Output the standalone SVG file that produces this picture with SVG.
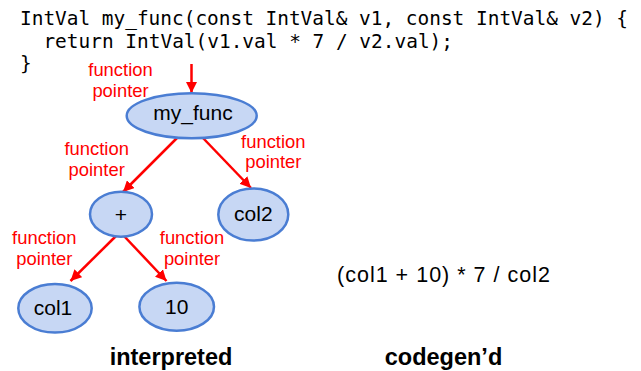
<svg xmlns="http://www.w3.org/2000/svg" width="641" height="371" viewBox="0 0 641 371">
<style>
.code{font-family:"DejaVu Sans Mono","Liberation Mono",monospace;font-size:19.4px;fill:#000}
.node ellipse{fill:#C7D7F4;stroke:#4A7DD3;stroke-width:2.5}
.node text{font-family:"Liberation Sans",Arial,sans-serif;font-size:21px;fill:#000;text-anchor:middle}
.lbl{font-family:"Liberation Sans",Arial,sans-serif;font-size:18.4px;fill:#FF0000;text-anchor:middle}
.cap{font-family:"Liberation Sans",Arial,sans-serif;font-size:23.5px;font-weight:bold;fill:#000;text-anchor:middle}
.edge{stroke:#FF0000;stroke-width:2.5;fill:none;marker-end:url(#ah)}
</style>
<defs>
<marker id="ah" viewBox="0 0 10 10" refX="10" refY="5" markerWidth="4.4" markerHeight="4.4" orient="auto" markerUnits="strokeWidth">
<path d="M0,0 L10,5 L0,10 z" fill="#FF0000"/>
</marker>
</defs>
<rect width="641" height="371" fill="#FFFFFF"/>
<g id="code">
<text class="code" x="20" y="25" textLength="608" lengthAdjust="spacingAndGlyphs">IntVal my_func(const IntVal&amp; v1, const IntVal&amp; v2) {</text>
<text class="code" x="20" y="47.5" xml:space="preserve" textLength="433" lengthAdjust="spacingAndGlyphs">  return IntVal(v1.val * 7 / v2.val);</text>
<text class="code" x="20" y="70">}</text>
</g>
<g id="connectors">
<line class="edge" x1="191.5" y1="64" x2="191.5" y2="93"/>
<line class="edge" x1="177" y1="138" x2="123" y2="192"/>
<line class="edge" x1="203" y1="138" x2="251" y2="188"/>
<line class="edge" x1="116" y1="236" x2="70.5" y2="281"/>
<line class="edge" x1="124" y1="236" x2="166.5" y2="281"/>
</g>
<g id="labels">
<text class="lbl" x="120.5" y="75.7">function</text>
<text class="lbl" x="120.5" y="96.7">pointer</text>
<text class="lbl" x="96.7" y="155">function</text>
<text class="lbl" x="96.7" y="175.7">pointer</text>
<text class="lbl" x="273.3" y="147.7">function</text>
<text class="lbl" x="273.3" y="168.3">pointer</text>
<text class="lbl" x="44.3" y="244">function</text>
<text class="lbl" x="44.3" y="265">pointer</text>
<text class="lbl" x="192" y="244">function</text>
<text class="lbl" x="192" y="265">pointer</text>
</g>
<g id="node-my_func" class="node">
<ellipse cx="191.7" cy="115.8" rx="65" ry="22.5"/>
<text x="193" y="120">my_func</text>
</g>
<g id="node-plus" class="node">
<ellipse cx="121" cy="214.2" rx="31" ry="22.5"/>
<text x="121" y="222">+</text>
</g>
<g id="node-col2" class="node">
<ellipse cx="253.3" cy="214.5" rx="35" ry="26"/>
<text x="253.3" y="221">col2</text>
</g>
<g id="node-col1" class="node">
<ellipse cx="55" cy="308.3" rx="36.7" ry="24.3"/>
<text x="53" y="315">col1</text>
</g>
<g id="node-10" class="node">
<ellipse cx="176.7" cy="306.7" rx="37.3" ry="24"/>
<text x="176.7" y="314">10</text>
</g>
<g id="captions">
<text x="337" y="282" font-family="Liberation Sans, Arial, sans-serif" font-size="21.5" fill="#000" textLength="213" lengthAdjust="spacing">(col1 + 10) * 7 / col2</text>
<text class="cap" x="171" y="365">interpreted</text>
<text class="cap" x="443.5" y="365">codegen’d</text>
</g>
</svg>
